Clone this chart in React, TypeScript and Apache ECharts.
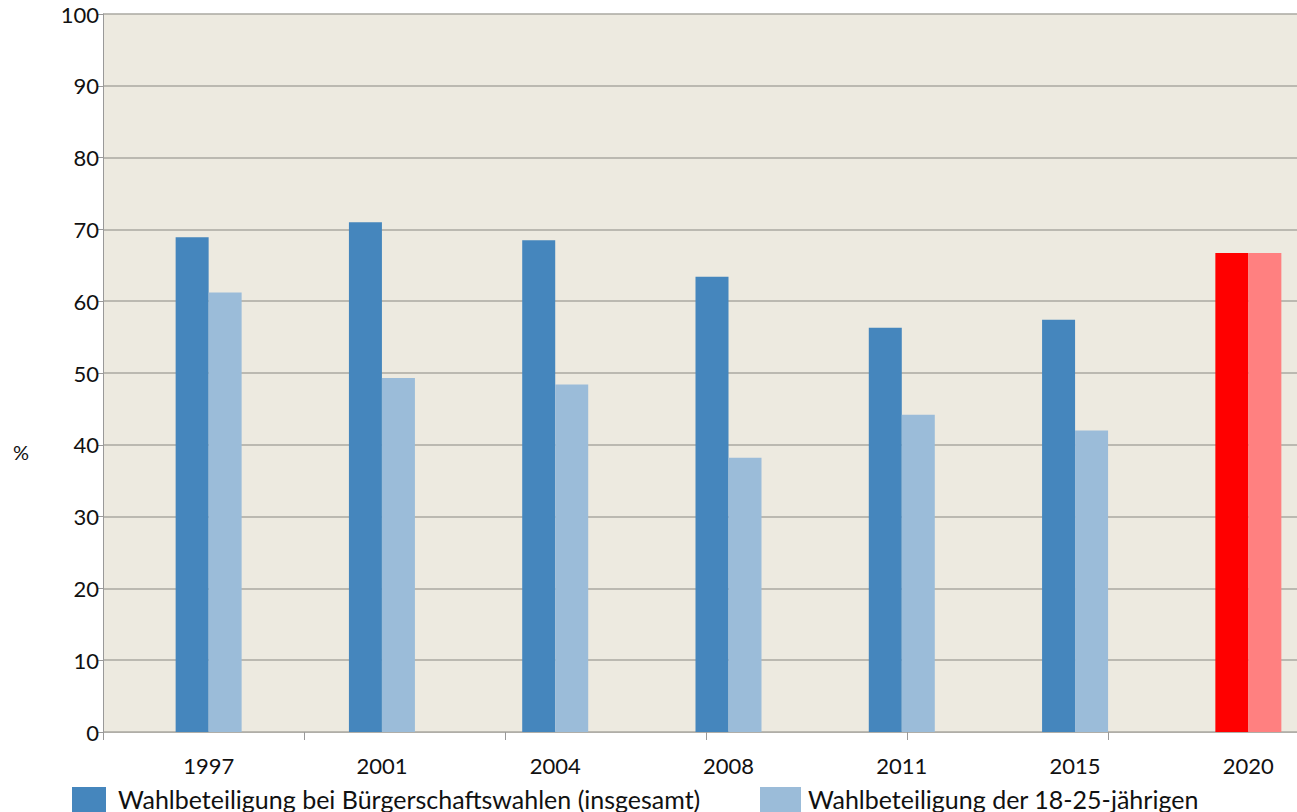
import React, { useEffect, useRef } from "react";
import * as echarts from "echarts";

const years = ["1997", "2001", "2004", "2008", "2011", "2015", "2020"];
const totalTurnout = [68.9, 71.0, 68.5, 63.4, 56.3, 57.4, 66.7];
const youthTurnout = [61.2, 49.3, 48.4, 38.2, 44.2, 42.0, 66.7];
const yTicks = [0, 10, 20, 30, 40, 50, 60, 70, 80, 90, 100];
const seriesNames = [
  "Wahlbeteiligung bei Bürgerschaftswahlen (insgesamt)",
  "Wahlbeteiligung der 18-25-jährigen",
];
const highlightYear = "2020";

const FONT = "Lato, 'Open Sans', sans-serif";
const DARK = "#4586bd";
const LIGHT = "#9bbcd9";
const RED = "#ff0000";
const PINK = "#ff8080";

export default function App() {
  const ref = useRef<HTMLDivElement>(null);
  useEffect(() => {
    if (!ref.current) return;
    const chart = echarts.init(ref.current, null, { renderer: "svg" });
    const mk = (vals: number[], hi: string) =>
      vals.map((v, i) =>
        years[i] === highlightYear ? { value: v, itemStyle: { color: hi } } : v
      );
    const legendText = (padLeft: number) => ({
      fontSize: 25,
      color: "#111111",
      fontFamily: FONT,
      rich: {
        t: {
          fontSize: 25,
          color: "#111111",
          fontFamily: FONT,
          padding: [0, 0, 7, padLeft],
        },
      },
    });
    chart.setOption({
      animation: false,
      backgroundColor: "#ffffff",
      textStyle: { fontFamily: FONT },
      grid: [
        {
          left: 103,
          right: 0,
          top: 14,
          bottom: 80,
          show: true,
          backgroundColor: "#edeae0",
          borderWidth: 0,
          outerBoundsMode: "none",
        },
        {
          left: 122,
          width: 1213,
          top: 14,
          bottom: 80,
          outerBoundsMode: "none",
          containLabel: false,
        },
      ],
      xAxis: [
        {
          type: "value",
          gridIndex: 0,
          min: 0,
          max: 1194 / 201,
          interval: 1,
          axisLine: { show: true, lineStyle: { color: "#b0aea8", width: 1 } },
          axisTick: { show: true, length: 8, lineStyle: { color: "#999999" } },
          axisLabel: { show: false },
          splitLine: { show: false },
        },
        {
          type: "category",
          gridIndex: 1,
          data: years,
          axisLine: { show: false },
          axisTick: { show: false },
          axisLabel: {
            margin: 22,
            color: "#111111",
            fontSize: 22,
            fontFamily: FONT,
          },
        },
      ],
      yAxis: [
        {
          type: "value",
          gridIndex: 0,
          min: yTicks[0],
          max: yTicks[yTicks.length - 1],
          interval: 10,
          axisLine: { show: true, lineStyle: { color: "#999999", width: 1 } },
          axisTick: { show: true, length: 5, lineStyle: { color: "#999999" } },
          axisLabel: {
            margin: 4,
            color: "#111111",
            fontSize: 22,
            fontFamily: FONT,
          },
          splitLine: { show: true, lineStyle: { color: "#aaa8a2", width: 1.5 } },
        },
        {
          type: "value",
          gridIndex: 1,
          min: 0,
          max: 100,
          show: false,
          splitLine: { show: false },
        },
      ],
      legend: [
        {
          data: [seriesNames[0]],
          left: 67,
          top: 781,
          itemWidth: 34,
          itemHeight: 30,
          icon: "rect",
          formatter: (name: string) => `{t|${name}}`,
          textStyle: legendText(7),
        },
        {
          data: [seriesNames[1]],
          left: 755,
          top: 781,
          itemWidth: 41,
          itemHeight: 30,
          icon: "rect",
          formatter: (name: string) => `{t|${name}}`,
          textStyle: legendText(2),
        },
      ],
      graphic: [
        {
          type: "text",
          left: 13,
          top: 442,
          style: { text: "%", fontSize: 20, fontFamily: FONT, fill: "#111111" },
        },
      ],
      series: [
        {
          name: seriesNames[0],
          type: "bar",
          xAxisIndex: 1,
          yAxisIndex: 1,
          barWidth: 33,
          barGap: "0%",
          itemStyle: { color: DARK },
          data: mk(totalTurnout, RED),
        },
        {
          name: seriesNames[1],
          type: "bar",
          xAxisIndex: 1,
          yAxisIndex: 1,
          barWidth: 33,
          barGap: "0%",
          itemStyle: { color: LIGHT },
          data: mk(youthTurnout, PINK),
        },
      ],
    });
    return () => chart.dispose();
  }, []);
  return (
    <div
      ref={ref}
      style={{ position: "fixed", left: 0, top: 0, width: 1297, height: 812 }}
    />
  );
}
